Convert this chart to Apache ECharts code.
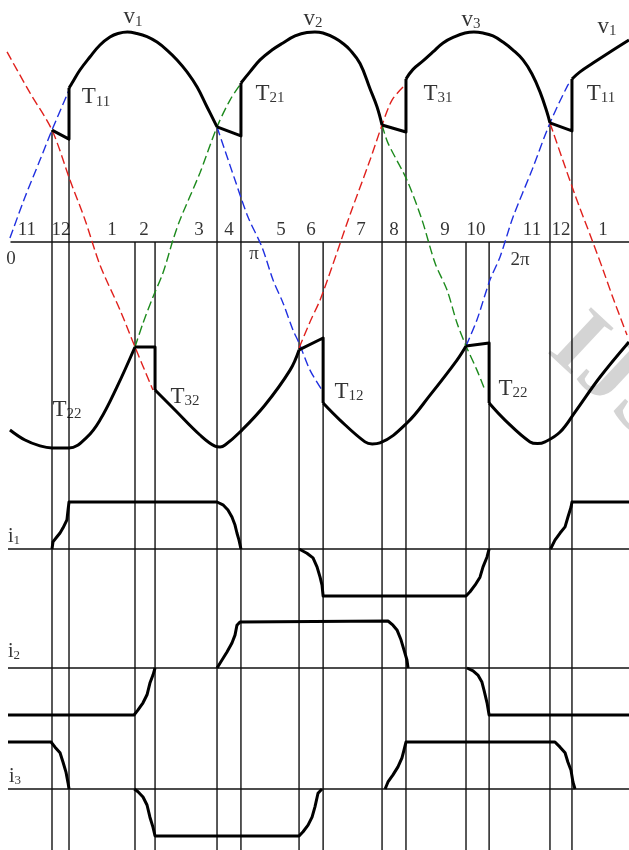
<!DOCTYPE html>
<html>
<head>
<meta charset="utf-8">
<title>6-pulse waveforms</title>
<script src="https://cdn.jsdelivr.net/npm/echarts@6/dist/echarts.min.js"></script>
<style>
  html, body { margin: 0; padding: 0; background: #fff; }
  #main { width: 629px; height: 850px; }
</style>
</head>
<body>
<div id="main"></div>
<script>
// x: electrical angle in degrees, voltages in per unit of phase peak,
// currents in per unit of load current

/* positive group output (upper envelope) */
const posArcs = [
  [[42.3,0.733],[44.5,0.757],[50.2,0.819],[57.4,0.881],[64.7,0.938],[71.9,0.976],[77.7,0.993],[84.5,1.0],[91.4,0.993],[98.7,0.978],[105.9,0.952],[113.1,0.914],[120.4,0.867],[127.6,0.810],[134.9,0.738],[142.1,0.643],[149.3,0.548]],
  [[166.6,0.757],[173.1,0.810],[180.4,0.867],[189.0,0.914],[197.0,0.948],[205.7,0.981],[214.3,0.998],[220.0,1.0],[225.9,0.995],[234.6,0.971],[240.4,0.945],[245.4,0.915],[252.7,0.850],[259.9,0.730],[264.9,0.645],[268.6,0.557]],
  [[285.9,0.776],[291.0,0.822],[298.2,0.862],[305.4,0.905],[312.7,0.948],[321.3,0.978],[328.6,0.995],[335.0,1.0],[341.6,0.995],[348.8,0.981],[356.0,0.952],[363.3,0.914],[370.5,0.867],[377.0,0.800],[382.8,0.715],[387.8,0.619],[390.0,0.567]],
  [[405.9,0.776],[411.7,0.810],[421.1,0.852],[433.4,0.905],[447.1,0.962]]
];
const posComm = [
  [[30,0.533],[42.3,0.490],[42.3,0.733]],
  [[149.3,0.548],[166.6,0.505],[166.6,0.757]],
  [[268.6,0.557],[285.9,0.524],[285.9,0.776]],
  [[390,0.567],[405.9,0.529],[405.9,0.776]]
];

/* negative group output (lower envelope) */
const negArcs = [
  [[-0.4,-0.895],[10.5,-0.943],[21.3,-0.971],[30,-0.981],[42.3,-0.981],[55.3,-0.929],[64.7,-0.848],[77.0,-0.690],[90,-0.5]],
  [[104.5,-0.705],[118.9,-0.8],[137.0,-0.919],[147.8,-0.972],[151.5,-0.976],[155.1,-0.967],[165.9,-0.905],[184.0,-0.776],[202.1,-0.610],[208.6,-0.514]],
  [[226,-0.767],[238.2,-0.848],[256.3,-0.952],[261.5,-0.962],[267.1,-0.957],[286.6,-0.862],[303.3,-0.729],[322.8,-0.562],[329.3,-0.495]],
  [[346,-0.767],[357.5,-0.848],[375.6,-0.952],[381.0,-0.960],[386.4,-0.952],[397.3,-0.905],[408.1,-0.810],[426.2,-0.643],[447.1,-0.476]]
];
const negComm = [
  [[90,-0.5],[104.5,-0.5],[104.5,-0.705]],
  [[208.6,-0.514],[226,-0.457],[226,-0.767]],
  [[329.3,-0.495],[346,-0.481],[346,-0.767]]
];

/* phase voltages (dashed where not on an envelope) */
const v1Segs = [
  [[-0.4,0.019],[10.5,0.214],[21.3,0.390],[30,0.533],[40.8,0.700],[42.3,0.724]],
  [[149.3,0.548],[162.3,0.295],[171.7,0.119],[181.8,-0.024],[189.8,-0.181],[197.0,-0.290],[204.2,-0.419],[208.6,-0.481],[216.5,-0.610],[225.2,-0.705]],
  [[329.3,-0.495],[337.2,-0.371],[346.6,-0.181],[353.9,-0.071],[363.3,0.119],[377.0,0.343],[390,0.567],[403,0.748],[405.9,0.771]]
];
const v2Segs = [
  [[90,-0.5],[95.8,-0.386],[103.0,-0.262],[110.2,-0.148],[117.5,0.010],[122.5,0.105],[137.0,0.330],[149.3,0.548],[158.7,0.676],[165.9,0.748]],
  [[268.6,0.557],[272.9,0.471],[286.6,0.295],[297.5,0.105],[306.9,-0.1],[315.6,-0.229],[322.8,-0.386],[329.3,-0.495],[337.2,-0.610],[343.0,-0.705]]
];
const v3Segs = [
  [[-2.5,0.905],[14.1,0.710],[30,0.533],[43,0.295],[53.9,0.105],[64.7,-0.110],[79.2,-0.324],[90,-0.5],[103,-0.705]],
  [[208.6,-0.505],[216.5,-0.381],[223.8,-0.276],[232.4,-0.119],[245.4,0.129],[259.9,0.390],[268.6,0.557],[275.8,0.676],[284.5,0.743]],
  [[390,0.567],[408.1,0.224],[420.4,0.010],[428.4,-0.133],[435.6,-0.267],[445.7,-0.443]]
];

/* line currents */
const i1Pulses = [
  [[30,0],[30.7,0.15],[33.6,0.26],[35.8,0.34],[38.0,0.45],[40.8,0.62],[41.6,0.83],[42.3,1],[149.3,1],[153.6,0.94],[157.2,0.83],[160.1,0.68],[162.3,0.51],[163.7,0.34],[165.2,0.19],[166.6,0]],
  [[208.6,0],[214.3,-0.09],[218.7,-0.19],[221.6,-0.38],[223.8,-0.6],[225.2,-0.77],[226,-1],[329.3,-1],[332.2,-0.91],[335.8,-0.77],[339.4,-0.6],[341.6,-0.38],[344.5,-0.17],[346,0]],
  [[390.4,0],[393.6,0.19],[397.3,0.34],[400.9,0.47],[403.0,0.68],[405.2,0.89],[405.9,1],[447.2,1]]
];
const i2Pulses = [
  [[-1.8,-1],[89.3,-1],[92.2,-0.89],[95.8,-0.74],[98.7,-0.57],[100.8,-0.32],[103.0,-0.15],[104.5,0]],
  [[149.3,0],[152.9,0.17],[156.5,0.34],[160.1,0.53],[162.3,0.70],[163.7,0.91],[165.9,0.98],[166.6,1],[272.9,1],[276.5,0.91],[279.4,0.81],[282.3,0.60],[284.5,0.38],[286.6,0.17],[287.4,0]],
  [[330.0,0],[334.4,-0.06],[337.9,-0.15],[340.8,-0.30],[342.3,-0.47],[344.5,-0.74],[346.0,-1],[447.2,-1]]
];
const i3Pulses = [
  [[-1.8,1],[29.3,1],[32.2,0.89],[35.8,0.77],[38.0,0.57],[40.1,0.36],[41.6,0.13],[42.3,0]],
  [[89.5,0],[92.2,-0.06],[95.8,-0.17],[98.7,-0.34],[100.8,-0.60],[103.0,-0.81],[104.5,-1],[208.6,-1],[211.5,-0.91],[215.1,-0.77],[218.0,-0.60],[220.1,-0.38],[222.3,-0.09],[225.2,0]],
  [[270.8,0],[272.9,0.15],[276.5,0.30],[280.1,0.47],[283.0,0.66],[284.5,0.83],[285.9,1],[393.6,1],[397.3,0.89],[400.9,0.77],[403.0,0.57],[405.2,0.40],[406.6,0.15],[408.1,0]]
];

/* commutation instants and where their marker lines start (pu) */
const commAngles = [30, 42.3, 90, 104.5, 149.3, 166.6, 208.6, 226, 268.6, 285.9, 329.3, 346, 390, 405.9];
const commTops   = [0.533, 0.733, 0, 0, 0.548, 0.757, 0, 0, 0.557, 0.776, 0, 0, 0.567, 0.776];

/* interval numbers along the angle axis */
const sectorNames = ['11','12','1','2','3','4','5','6','7','8','9','10','11','12','1'];
const sectorAt    = [11.9, 36.5, 73.4, 96.5, 136.3, 157.9, 195.6, 217.2, 253.4, 277.2, 314.1, 336.5, 377.0, 398.0, 428.3];

/* text labels: [angle, pu, main, subscript] */
const voltNames = [[88.6,1.071,'v','1'],[218.7,1.062,'v','2'],[332.9,1.057,'v','3'],[431.2,1.024,'v','1']];
const thyNames = [[61.8,0.690,'T','11'],[187.6,0.705,'T','21'],[309.0,0.705,'T','31'],[426.9,0.705,'T','11'],
                  [40.8,-0.80,'T','22'],[126.1,-0.738,'T','32'],[244.7,-0.714,'T','12'],[363.3,-0.70,'T','22']];
const angleNames = [[0.4,-0.081,'0'],[176.0,-0.057,'π'],[368.3,-0.086,'2π']];
const currNames = [[2.5,-1.405,'i','1'],[2.5,-1.952,'i','2'],[3.2,-2.548,'i','3']];

/* layout: one degree = 1.3833 px, 0 deg at 10.5 px; 1 pu voltage = 210 px, zero at 242 px */
const X_MIN = -7.59, X_MAX = 447.13;
const H = 850;
const FONT = 'Liberation Serif';

const chart = echarts.init(document.getElementById('main'), null, { renderer: 'canvas' });

function yRange(zeroPx, pxPerUnit) {
  return { min: -(H - zeroPx) / pxPerUnit, max: zeroPx / pxPerUnit };
}
const yVolt = yRange(242, 210);
const yI = [yRange(549, 47), yRange(668, 47), yRange(789, 47)];

function line(data, style, opt) {
  return Object.assign({
    type: 'line', data: data, symbol: 'none', silent: true, clip: false,
    xAxisIndex: 0, yAxisIndex: 0, lineStyle: style, z: 2
  }, opt || {});
}

let series = [];

/* thin reference lines */
const thin = { color: '#111', width: 1.4 };
commAngles.forEach((a, k) => {
  series.push(line([[a, commTops[k]], [a, yVolt.min]], thin, { z: 1 }));
});
series.push(line([[0, 0], [X_MAX, 0]], thin, { z: 1 }));
[1, 2, 3].forEach(g => {
  series.push(line([[-1.8, 0], [X_MAX, 0]], thin, { xAxisIndex: g, yAxisIndex: g, z: 1 }));
});

/* dashed phase voltages */
const dash = (c) => ({ color: c, width: 1.4, type: [9, 4] });
v1Segs.forEach(s => series.push(line(s, dash('#1f2fe0'), { smooth: 0.3, z: 3 })));
v2Segs.forEach(s => series.push(line(s, dash('#1c8a1c'), { smooth: 0.3, z: 3 })));
v3Segs.forEach(s => series.push(line(s, dash('#e0201c'), { smooth: 0.3, z: 3 })));

/* envelopes */
const bold = { color: '#000', width: 3, join: 'round' };
posArcs.concat(negArcs).forEach(s => series.push(line(s, bold, { smooth: 0.4, z: 4 })));
posComm.concat(negComm).forEach(s => series.push(line(s, bold, { z: 4 })));

/* currents */
[i1Pulses, i2Pulses, i3Pulses].forEach((pulses, k) => {
  pulses.forEach(p => series.push(line(p, bold, { xAxisIndex: k + 1, yAxisIndex: k + 1, z: 4 })));
});

/* labels */
const rich = {
  m: { fontFamily: FONT, fontSize: 23, color: '#000', lineHeight: 24 },
  s: { fontFamily: FONT, fontSize: 15, color: '#000', lineHeight: 12, verticalAlign: 'bottom' },
  n: { fontFamily: FONT, fontSize: 19, color: '#000', lineHeight: 20 },
  c: { fontFamily: FONT, fontSize: 20, color: '#000', lineHeight: 20 },
  cs: { fontFamily: FONT, fontSize: 13, color: '#000', lineHeight: 10, verticalAlign: 'bottom' }
};
function labelSeries(items, fmt) {
  return {
    type: 'scatter', symbolSize: 0, silent: true, z: 6,
    data: items.map(d => ({ value: [d[0], d[1]], txt: fmt(d) })),
    label: {
      show: true, position: 'inside', align: 'center', verticalAlign: 'middle',
      formatter: p => p.data.txt, rich: rich
    }
  };
}
series.push(labelSeries(voltNames.concat(thyNames), d => '{m|' + d[2] + '}{s|' + d[3] + '}'));
series.push(labelSeries(angleNames, d => '{n|' + d[2] + '}'));
series.push(labelSeries(sectorAt.map((a, k) => [a, 0.057, sectorNames[k]]), d => '{n|' + d[2] + '}'));
series.push(labelSeries(currNames, d => '{c|' + d[2] + '}{cs|' + d[3] + '}'));

chart.setOption({
  animation: false,
  backgroundColor: '#fff',
  grid: [0, 1, 2, 3].map(() => ({ left: 0, right: 0, top: 0, bottom: 0, containLabel: false })),
  xAxis: [0, 1, 2, 3].map(g => ({ type: 'value', gridIndex: g, min: X_MIN, max: X_MAX, show: false })),
  yAxis: [yVolt].concat(yI).map((r, g) => ({ type: 'value', gridIndex: g, min: r.min, max: r.max, show: false })),
  graphic: [{
    type: 'text', x: 530, y: 368, rotation: -0.75, z: 0,
    style: {
      text: 'IJSER', fontFamily: FONT, fontWeight: 'bold', fontSize: 96,
      fill: 'rgba(160,160,160,0.45)', verticalAlign: 'bottom'
    }
  }],
  series: series
});
</script>
</body>
</html>
